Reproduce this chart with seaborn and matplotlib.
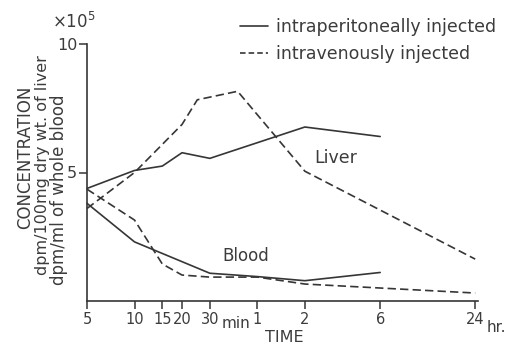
import matplotlib
matplotlib.use("Agg")
import matplotlib.pyplot as plt
from matplotlib.lines import Line2D
import seaborn as sns
import pandas as pd

# ---- data (time in minutes, concentration in units of 1e5) ----
liver_ip_t = [5, 10, 15, 20, 30, 120, 360]
liver_ip_v = [4.38, 5.08, 5.25, 5.77, 5.55, 6.77, 6.40]

liver_iv_t = [5, 10, 20, 25, 45, 120, 1440]
liver_iv_v = [3.60, 5.00, 6.87, 7.83, 8.16, 5.05, 1.63]

blood_ip_t = [5, 10, 30, 60, 120, 360]
blood_ip_v = [3.80, 2.30, 1.08, 0.95, 0.79, 1.11]

blood_iv_t = [5, 10, 15, 20, 30, 60, 120, 1440]
blood_iv_v = [4.35, 3.15, 1.44, 1.01, 0.93, 0.93, 0.66, 0.31]

xtick_pos = [5, 10, 15, 20, 30, 60, 120, 360, 1440]
xtick_labels = ["5", "10", "15", "20", "30", "1", "2", "6", "24"]
ytick_pos = [5, 10]
ytick_labels = ["5", "10"]

legend_labels = ["intraperitoneally injected", "intravenously injected"]
ylabel_lines = ["CONCENTRATION", "dpm/100mg dry wt. of liver", "dpm/ml of whole blood"]

sns.set_theme(style="ticks")
plt.rcParams["font.family"] = ["DejaVu Sans"]
plt.rcParams["mathtext.default"] = "regular"
plt.rcParams["lines.scale_dashes"] = False

INK = "#363636"
TXT = "#3c3c3c"
W, H = 506, 346

fig = plt.figure(figsize=(W / 100, H / 100), dpi=100)
fig.patch.set_facecolor("white")
ax = fig.add_axes([87 / W, 1 - 301 / H, 391 / W, 257 / H])
ax.set_facecolor("white")

DASH = (0, (6, 3))
series = [
    (liver_ip_t, liver_ip_v, "-"),
    (liver_iv_t, liver_iv_v, DASH),
    (blood_ip_t, blood_ip_v, "-"),
    (blood_iv_t, blood_iv_v, DASH),
]
for t, v, ls in series:
    df = pd.DataFrame({"t": t, "v": v})
    sns.lineplot(data=df, x="t", y="v", ax=ax, color=INK, linewidth=1.2,
                 linestyle=ls, legend=False, clip_on=False)

ax.set_xscale("log")
ax.set_xlim(5, 1500)
ax.set_ylim(0, 10)
ax.minorticks_off()
ax.set_xticks(xtick_pos)
ax.set_xticklabels(xtick_labels)
ax.set_yticks(ytick_pos)
ax.set_yticklabels(ytick_labels)
ax.set_xlabel("")
ax.set_ylabel("")

for lab in ax.get_xticklabels():
    lab.set_fontsize(10.5)
    lab.set_color(TXT)
for lab in ax.get_yticklabels():
    lab.set_fontsize(11.5)
    lab.set_color(TXT)
ax.tick_params(axis="both", direction="out", length=6, width=1.1, color=INK)
ax.tick_params(axis="x", pad=2)
ax.tick_params(axis="y", pad=1)

for s in ["top", "right"]:
    ax.spines[s].set_visible(False)
for s in ["left", "bottom"]:
    ax.spines[s].set_color(INK)
    ax.spines[s].set_linewidth(1.2)

# legend
handles = [Line2D([], [], color=INK, lw=1.2, ls="-"),
           Line2D([], [], color=INK, lw=1.2, ls=(0, (4, 2.2)))]
fig.legend(handles, legend_labels, loc="upper left",
           bbox_to_anchor=(240 / W, 1 - 18 / H), frameon=False,
           fontsize=12.5, handlelength=1.6, handletextpad=0.45,
           labelspacing=0.5, borderpad=0, borderaxespad=0, labelcolor=TXT)

# axis annotations
def ftext(x, y, s, **kw):
    fig.text(x / W, 1 - y / H, s, color=TXT, **kw)

ftext(52, 22, "×10$^{5}$", fontsize=12, ha="left", va="center")
ftext(236, 324, "min", fontsize=11, ha="center", va="center")
ftext(496, 327, "hr.", fontsize=11, ha="center", va="center")
ftext(284, 337, "TIME", fontsize=11.5, ha="center", va="center")

ftext(25, 157, ylabel_lines[0], fontsize=12, rotation=90, ha="center", va="center")
ftext(43, 165, ylabel_lines[1], fontsize=11.5, rotation=90, ha="center", va="center")
ftext(59, 190, ylabel_lines[2], fontsize=12, rotation=90, ha="center", va="center")

ftext(336, 158, "Liver", fontsize=12.5, ha="center", va="center")
ftext(246, 256, "Blood", fontsize=12, ha="center", va="center")

fig.savefig("out.png", dpi=100, facecolor="white")
